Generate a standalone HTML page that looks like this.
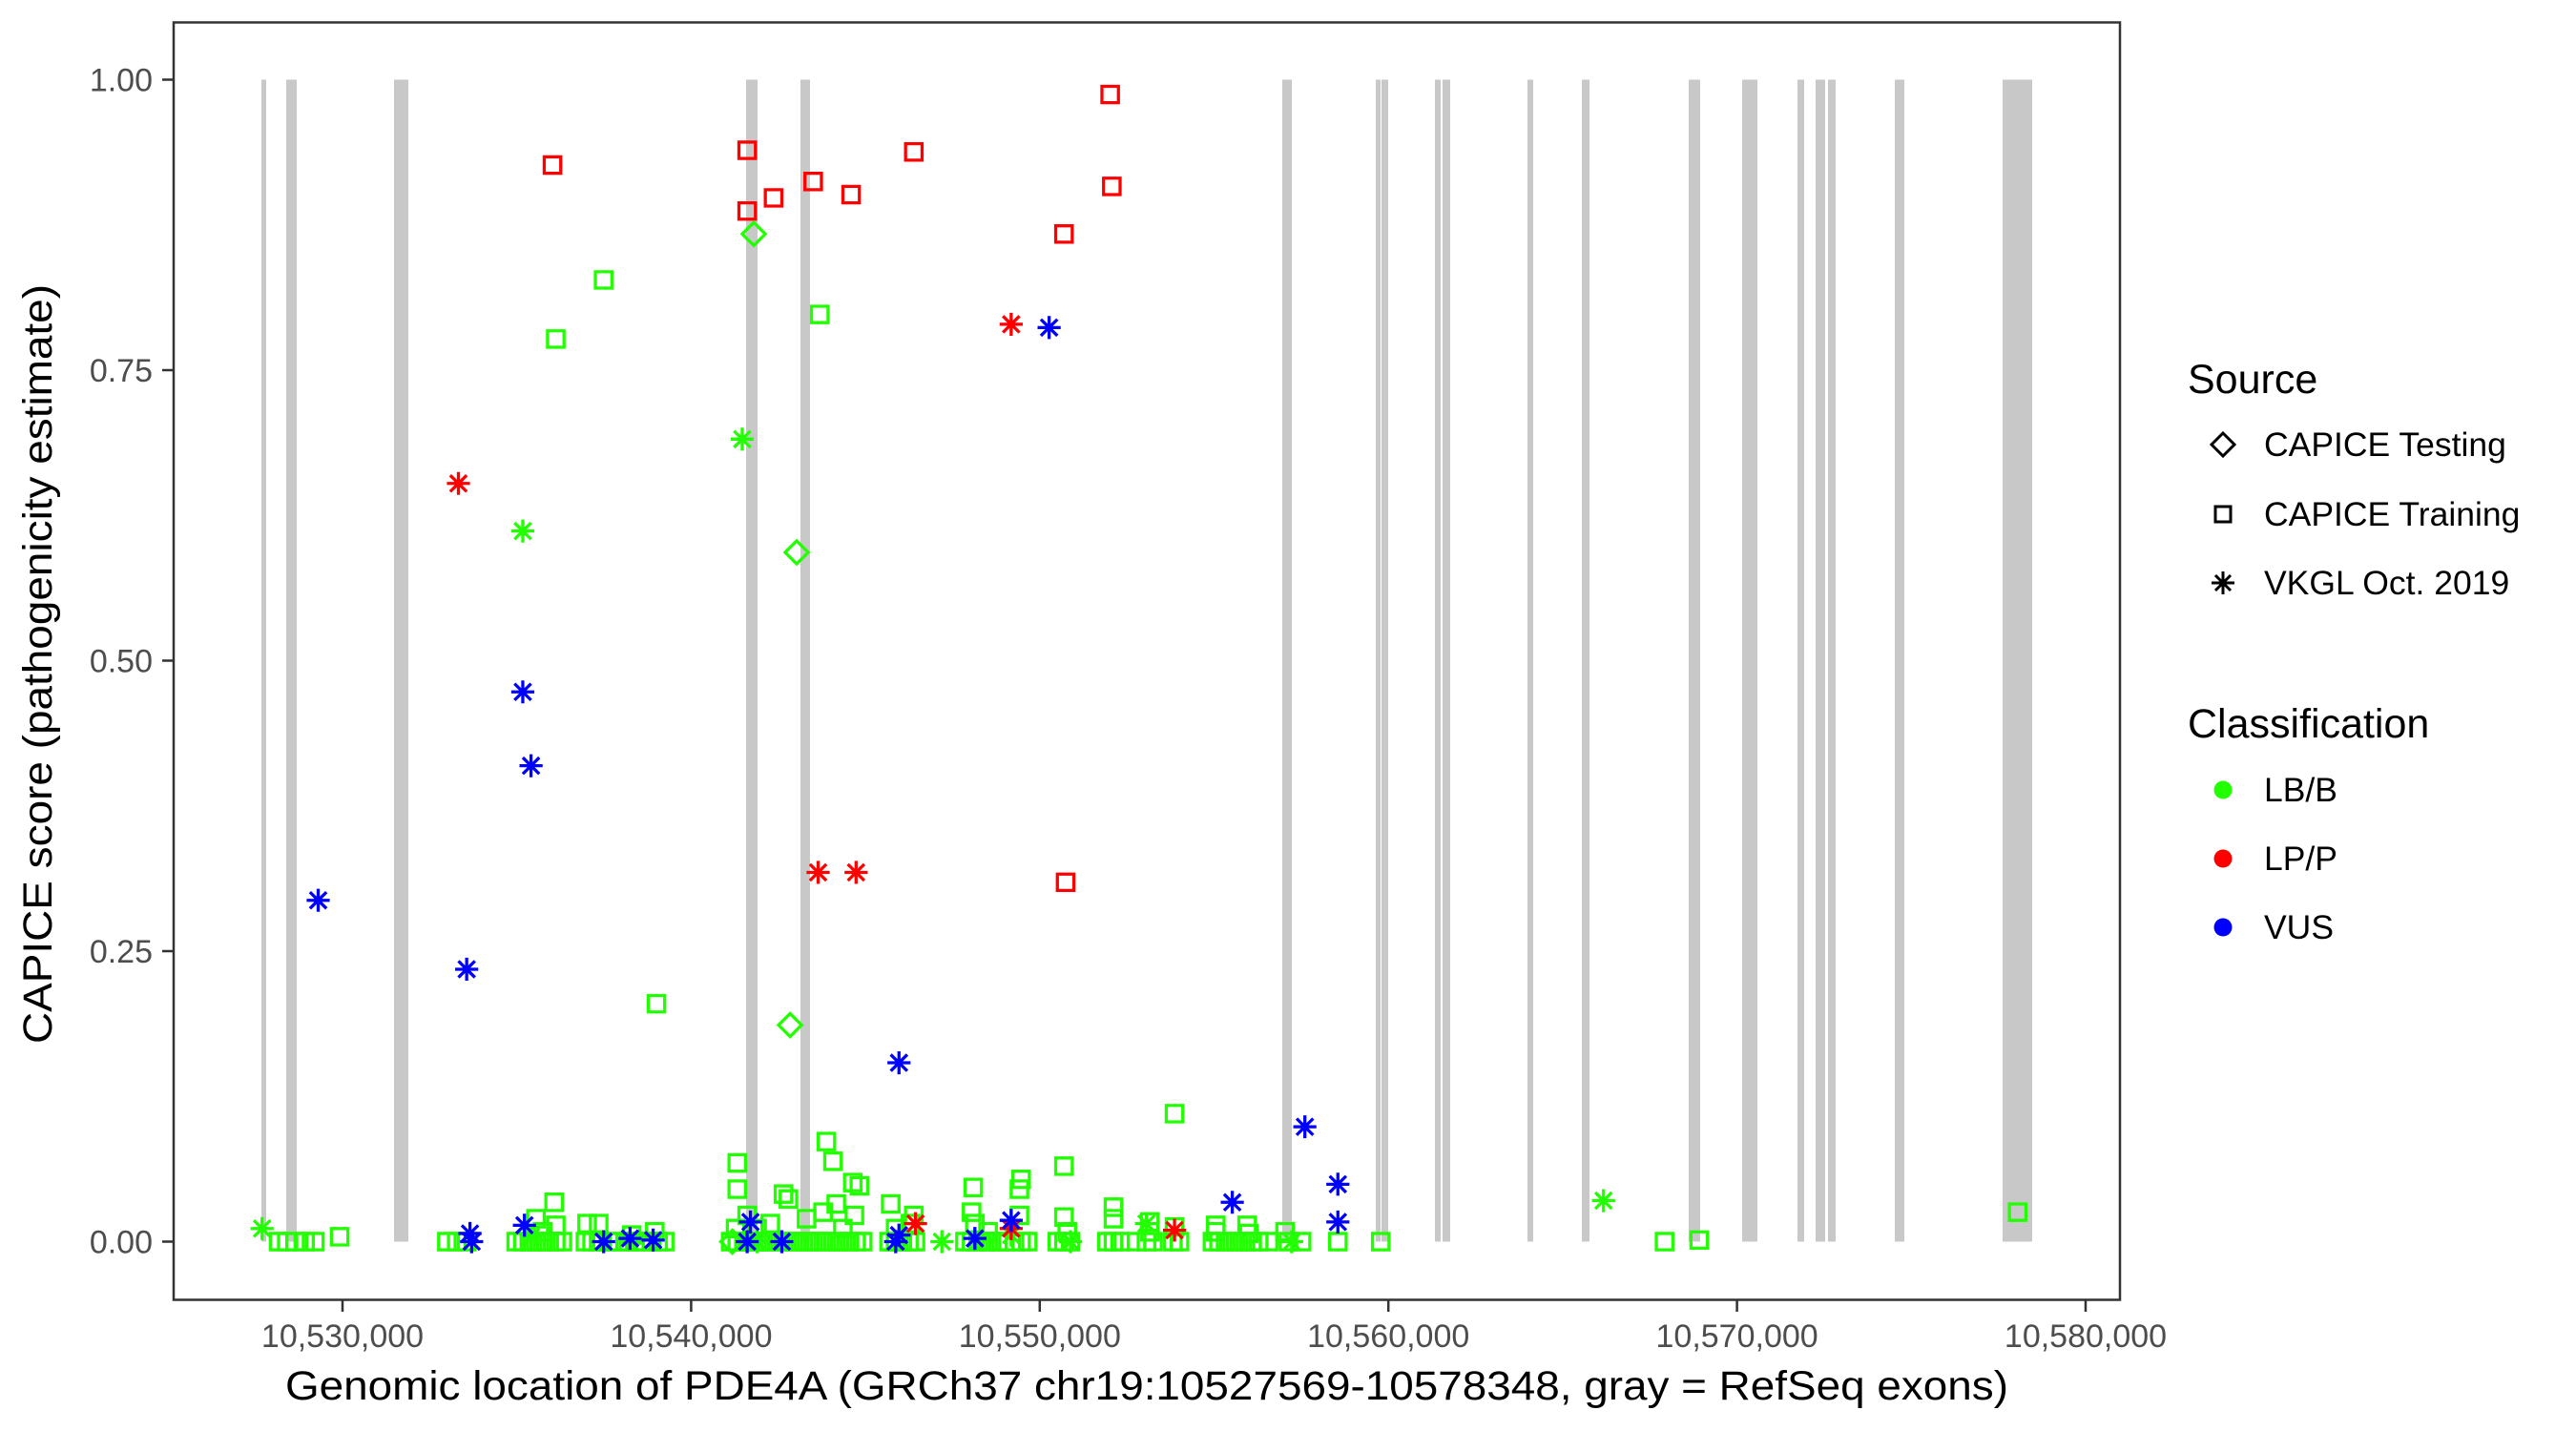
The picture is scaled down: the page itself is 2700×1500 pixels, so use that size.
<!DOCTYPE html>
<html><head><meta charset="utf-8"><style>html,body{margin:0;padding:0;background:#fff}svg{display:block}</style></head>
<body>
<svg width="2700" height="1500" viewBox="0 0 2700 1500" xmlns="http://www.w3.org/2000/svg" font-family="Liberation Sans, Arial, sans-serif">
<defs>
<path id="sq" d="M-5,-5H5V5H-5Z" fill="none" stroke-width="1.9"/>
<path id="di" d="M0,-7L7,0L0,7L-7,0Z" fill="none" stroke-width="1.9"/>
<path id="as" d="M0,-7V7M-7,0H7M-5,-5L5,5M-5,5L5,-5" fill="none" stroke-width="1.9"/>
</defs>
<rect width="2700" height="1500" fill="#fff"/>
<g fill="#c8c8c8">
<rect x="274" y="83.5" width="5" height="1218"/>
<rect x="300" y="83.5" width="11" height="1218"/>
<rect x="413" y="83.5" width="15" height="1218"/>
<rect x="782" y="83.5" width="12" height="1218"/>
<rect x="839" y="83.5" width="10" height="1218"/>
<rect x="1344" y="83.5" width="10" height="1218"/>
<rect x="1442" y="83.5" width="5" height="1218"/>
<rect x="1448" y="83.5" width="7" height="1218"/>
<rect x="1504" y="83.5" width="6" height="1218"/>
<rect x="1512" y="83.5" width="8" height="1218"/>
<rect x="1601" y="83.5" width="6" height="1218"/>
<rect x="1658" y="83.5" width="8" height="1218"/>
<rect x="1770" y="83.5" width="12" height="1218"/>
<rect x="1826" y="83.5" width="16" height="1218"/>
<rect x="1884" y="83.5" width="7" height="1218"/>
<rect x="1903" y="83.5" width="10" height="1218"/>
<rect x="1916" y="83.5" width="8" height="1218"/>
<rect x="1986" y="83.5" width="10" height="1218"/>
<rect x="2099" y="83.5" width="31" height="1218"/>
</g>
<g transform="matrix(1.7294 0 0 1.7203 -2 1)">
<g stroke="#22ff00">
<use href="#sq" x="170" y="756"/><use href="#sq" x="175" y="756"/><use href="#sq" x="180" y="756"/><use href="#sq" x="186" y="756"/><use href="#sq" x="192" y="756"/><use href="#sq" x="207" y="753"/>
<use href="#sq" x="272" y="756"/><use href="#sq" x="278" y="756"/><use href="#sq" x="284" y="756"/>
<use href="#sq" x="314" y="756"/><use href="#sq" x="318" y="756"/><use href="#sq" x="322" y="756"/><use href="#sq" x="326" y="756"/><use href="#sq" x="330" y="756"/><use href="#sq" x="334" y="756"/><use href="#sq" x="338" y="756"/><use href="#sq" x="342" y="756"/>
<use href="#sq" x="326" y="742"/><use href="#sq" x="337" y="732"/><use href="#sq" x="330" y="750"/><use href="#sq" x="338" y="746"/>
<use href="#sq" x="356" y="756"/><use href="#sq" x="360" y="756"/><use href="#sq" x="364" y="756"/><use href="#sq" x="370" y="756"/><use href="#sq" x="376" y="756"/><use href="#sq" x="382" y="756"/><use href="#sq" x="386" y="756"/><use href="#sq" x="390" y="756"/><use href="#sq" x="396" y="756"/><use href="#sq" x="400" y="756"/><use href="#sq" x="404" y="756"/>
<use href="#sq" x="357" y="745"/><use href="#sq" x="364" y="745"/><use href="#sq" x="398" y="750"/><use href="#sq" x="384" y="752"/>
<use href="#sq" x="444" y="756"/><use href="#sq" x="448" y="756"/><use href="#sq" x="452" y="756"/><use href="#sq" x="456" y="756"/><use href="#sq" x="460" y="756"/><use href="#sq" x="464" y="756"/><use href="#sq" x="468" y="756"/><use href="#sq" x="472" y="756"/><use href="#sq" x="476" y="756"/><use href="#sq" x="480" y="756"/><use href="#sq" x="484" y="756"/><use href="#sq" x="488" y="756"/><use href="#sq" x="492" y="756"/><use href="#sq" x="496" y="756"/><use href="#sq" x="500" y="756"/><use href="#sq" x="504" y="756"/><use href="#sq" x="508" y="756"/><use href="#sq" x="512" y="756"/><use href="#sq" x="516" y="756"/><use href="#sq" x="520" y="756"/><use href="#sq" x="524" y="756"/>
<use href="#sq" x="448" y="708"/><use href="#sq" x="448" y="724"/><use href="#sq" x="454" y="740"/><use href="#sq" x="447" y="748"/><use href="#sq" x="476" y="727"/><use href="#sq" x="479" y="730"/><use href="#sq" x="468" y="745"/><use href="#sq" x="490" y="742"/><use href="#sq" x="502" y="695"/><use href="#sq" x="506" y="707"/><use href="#sq" x="518" y="720"/><use href="#sq" x="522" y="722"/><use href="#sq" x="500" y="738"/><use href="#sq" x="508" y="733"/><use href="#sq" x="519" y="740"/><use href="#sq" x="512" y="748"/><use href="#sq" x="460" y="748"/>
<use href="#sq" x="540" y="756"/><use href="#sq" x="544" y="756"/><use href="#sq" x="548" y="756"/><use href="#sq" x="552" y="756"/><use href="#sq" x="556" y="756"/><use href="#sq" x="541" y="733"/><use href="#sq" x="555" y="740"/><use href="#sq" x="553" y="745"/><use href="#sq" x="544" y="748"/>
<use href="#sq" x="586" y="756"/><use href="#sq" x="590" y="756"/><use href="#sq" x="594" y="756"/><use href="#sq" x="598" y="756"/><use href="#sq" x="602" y="756"/><use href="#sq" x="606" y="756"/><use href="#sq" x="610" y="756"/><use href="#sq" x="616" y="756"/><use href="#sq" x="620" y="756"/><use href="#sq" x="624" y="756"/>
<use href="#sq" x="591" y="723"/><use href="#sq" x="590" y="738"/><use href="#sq" x="592" y="745"/><use href="#sq" x="620" y="718"/><use href="#sq" x="619" y="724"/><use href="#sq" x="619" y="740"/><use href="#sq" x="600" y="750"/>
<use href="#sq" x="642" y="756"/><use href="#sq" x="646" y="756"/><use href="#sq" x="650" y="756"/><use href="#sq" x="646" y="710"/><use href="#sq" x="646" y="741"/><use href="#sq" x="648" y="750"/>
<use href="#sq" x="672" y="756"/><use href="#sq" x="676" y="756"/><use href="#sq" x="680" y="756"/><use href="#sq" x="690" y="756"/><use href="#sq" x="696" y="756"/><use href="#sq" x="700" y="756"/><use href="#sq" x="712" y="756"/><use href="#sq" x="716" y="756"/>
<use href="#sq" x="676" y="735"/><use href="#sq" x="676" y="742"/><use href="#sq" x="698" y="744"/><use href="#sq" x="698" y="750"/><use href="#sq" x="713" y="747"/><use href="#sq" x="713" y="678"/>
<use href="#sq" x="736" y="756"/><use href="#sq" x="740" y="756"/><use href="#sq" x="744" y="756"/><use href="#sq" x="748" y="756"/><use href="#sq" x="752" y="756"/><use href="#sq" x="756" y="756"/><use href="#sq" x="760" y="756"/><use href="#sq" x="764" y="756"/><use href="#sq" x="770" y="756"/>
<use href="#sq" x="738" y="746"/><use href="#sq" x="738" y="750"/><use href="#sq" x="757" y="746"/><use href="#sq" x="758" y="751"/><use href="#sq" x="780" y="750"/>
<use href="#sq" x="782" y="756"/><use href="#sq" x="790" y="756"/><use href="#sq" x="812" y="756"/><use href="#sq" x="838" y="756"/><use href="#sq" x="1010" y="756"/><use href="#sq" x="1031" y="755"/>
<use href="#sq" x="367" y="170"/><use href="#sq" x="338" y="206"/><use href="#sq" x="498" y="191"/><use href="#sq" x="399" y="611"/><use href="#sq" x="1224" y="738"/>
</g>
<g stroke="#ff0000">
<use href="#sq" x="336" y="100"/><use href="#sq" x="454" y="91"/><use href="#sq" x="454" y="128"/><use href="#sq" x="470" y="120"/><use href="#sq" x="494" y="110"/><use href="#sq" x="517" y="118"/><use href="#sq" x="555" y="92"/><use href="#sq" x="674" y="57"/><use href="#sq" x="675" y="113"/><use href="#sq" x="646" y="142"/><use href="#sq" x="647" y="537"/>
</g>
<g stroke="#22ff00">
<use href="#di" x="458" y="142"/><use href="#di" x="484" y="336"/><use href="#di" x="480" y="624"/><use href="#di" x="445" y="756"/>
<use href="#as" x="451" y="267"/><use href="#as" x="318" y="323"/><use href="#as" x="160" y="748"/><use href="#as" x="973" y="731"/><use href="#as" x="572" y="756"/><use href="#as" x="650" y="756"/><use href="#as" x="696" y="745"/><use href="#as" x="784" y="756"/><use href="#as" x="323" y="753"/><use href="#as" x="460" y="756"/><use href="#as" x="614" y="752"/>
</g>
<g stroke="#ff0000">
<use href="#as" x="279" y="294"/><use href="#as" x="614" y="197"/><use href="#as" x="497" y="531"/><use href="#as" x="520" y="531"/><use href="#as" x="556" y="745"/><use href="#as" x="614" y="748"/><use href="#as" x="713" y="749"/>
</g>
<g stroke="#0000ff">
<use href="#as" x="637" y="199"/><use href="#as" x="318" y="421"/><use href="#as" x="323" y="466"/><use href="#as" x="194" y="548"/><use href="#as" x="284" y="590"/><use href="#as" x="546" y="647"/><use href="#as" x="792" y="686"/><use href="#as" x="748" y="732"/><use href="#as" x="812" y="721"/><use href="#as" x="812" y="744"/><use href="#as" x="286" y="751"/><use href="#as" x="287" y="756"/><use href="#as" x="319" y="746"/><use href="#as" x="383" y="754"/><use href="#as" x="367" y="756"/><use href="#as" x="397" y="755"/><use href="#as" x="456" y="744"/><use href="#as" x="454" y="756"/><use href="#as" x="475" y="756"/><use href="#as" x="546" y="752"/><use href="#as" x="544" y="756"/><use href="#as" x="592" y="754"/><use href="#as" x="614" y="743"/>
</g>
</g>
<rect x="182" y="23.5" width="2040" height="1339" fill="none" stroke="#333" stroke-width="2.5"/>
<g stroke="#333" stroke-width="2.5">
<line x1="170" y1="83.5" x2="182" y2="83.5"/><line x1="170" y1="388" x2="182" y2="388"/><line x1="170" y1="692.5" x2="182" y2="692.5"/><line x1="170" y1="997" x2="182" y2="997"/><line x1="170" y1="1301.5" x2="182" y2="1301.5"/>
<line x1="359" y1="1363" x2="359" y2="1375"/><line x1="724.4" y1="1363" x2="724.4" y2="1375"/><line x1="1089.8" y1="1363" x2="1089.8" y2="1375"/><line x1="1455.2" y1="1363" x2="1455.2" y2="1375"/><line x1="1820.6" y1="1363" x2="1820.6" y2="1375"/><line x1="2186" y1="1363" x2="2186" y2="1375"/>
</g>
<g fill="#4d4d4d" font-size="34" text-anchor="end">
<text x="160" y="95.5">1.00</text><text x="160" y="400">0.75</text><text x="160" y="704.5">0.50</text><text x="160" y="1009">0.25</text><text x="160" y="1313.5">0.00</text>
</g>
<g fill="#4d4d4d" font-size="34" text-anchor="middle">
<text x="359" y="1412">10,530,000</text><text x="724.4" y="1412">10,540,000</text><text x="1089.8" y="1412">10,550,000</text><text x="1455.2" y="1412">10,560,000</text><text x="1820.6" y="1412">10,570,000</text><text x="2186" y="1412">10,580,000</text>
</g>
<text x="299" y="1467" font-size="43" fill="#000" textLength="1806" lengthAdjust="spacingAndGlyphs">Genomic location of PDE4A (GRCh37 chr19:10527569-10578348, gray = RefSeq exons)</text>
<text transform="translate(54,1094) rotate(-90)" font-size="43" fill="#000" textLength="796" lengthAdjust="spacingAndGlyphs">CAPICE score (pathogenicity estimate)</text>
<g transform="translate(-12,-2)">
<text x="2305" y="414" font-size="43" fill="#000">Source</text>
<g transform="translate(13,0)">
<g stroke="#000" fill="none" stroke-width="3">
<path d="M2329,456L2341,468L2329,480L2317,468Z"/>
<rect x="2321" y="533" width="16" height="16"/>
<path d="M2329,601V625M2317,613H2341M2321,605L2337,621M2321,621L2337,605"/>
</g>
<circle cx="2329" cy="830" r="9.5" fill="#22ff00"/>
<circle cx="2329" cy="902" r="9.5" fill="#ff0000"/>
<circle cx="2329" cy="974" r="9.5" fill="#0000ff"/>
</g>
<g transform="translate(10,0)">
<g font-size="35.5" fill="#000">
<text x="2375" y="480">CAPICE Testing</text>
<text x="2375" y="553">CAPICE Training</text>
<text x="2375" y="625">VKGL Oct. 2019</text>
<text x="2375" y="842">LB/B</text>
<text x="2375" y="914">LP/P</text>
<text x="2375" y="986">VUS</text>
</g>
</g>
<text x="2305" y="775" font-size="43" fill="#000">Classification</text>
</g>
</svg>
</body></html>
